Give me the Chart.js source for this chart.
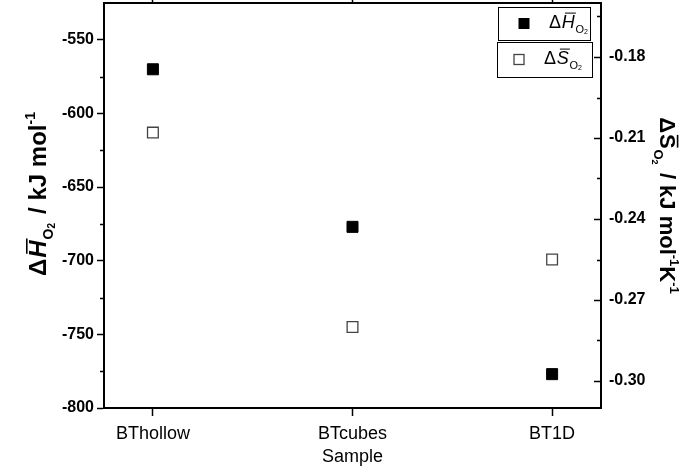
<!DOCTYPE html>
<html>
<head>
<meta charset="utf-8">
<script src="https://cdn.jsdelivr.net/npm/chart.js@4"></script>
<style>
  html, body { margin: 0; padding: 0; background: #fff; }
  #wrap { width: 686px; height: 473px; }
</style>
</head>
<body>
<div id="wrap"><canvas id="c" width="686" height="473"></canvas></div>
<script>
// Oxidation enthalpy and entropy per sample
const samples = ['BThollow', 'BTcubes', 'BT1D'];
const enthalpy = [-570, -677, -777];        // kJ mol-1
const entropy = [-0.208, -0.280, -0.255];   // kJ mol-1 K-1
const enthalpyTicks = [-800, -750, -700, -650, -600, -550];
const entropyTicks = [-0.30, -0.27, -0.24, -0.21, -0.18];
const enthalpyRange = [-800, -525];
const entropyRange = [-0.31, -0.16];
const xRange = [-0.245, 2.245];
const xTitle = 'Sample';
const seriesSymbols = ['H', 'S'];   // quantity letters, shown as ΔX̄ with subscript O2

const FAM = '"Liberation Sans", Arial, sans-serif';
Chart.defaults.font.family = FAM;
Chart.defaults.color = '#000';

const filledStyle = { bg: '#000', border: '#000', bw: 1 };
const openStyle = { bg: '#fff', border: '#444', bw: 1.3 };

// rich text: runs of {t, size, bold, italic, dy, bar}
function fontOf(r) {
  return (r.italic ? 'italic ' : '') + (r.bold ? 'bold ' : '') + r.size + 'px ' + FAM;
}
function runsWidth(ctx, runs) {
  let w = 0;
  for (const r of runs) { ctx.font = fontOf(r); w += ctx.measureText(r.t).width + (r.gap || 0); }
  return w;
}
function drawRuns(ctx, runs, x, y) {
  ctx.textBaseline = 'alphabetic';
  ctx.textAlign = 'left';
  for (const r of runs) {
    ctx.font = fontOf(r);
    const w = ctx.measureText(r.t).width;
    ctx.fillText(r.t, x, y + (r.dy || 0));
    if (r.bar) {
      const top = y - r.size * 0.80;
      const sh = r.italic ? r.size * 0.12 : 0;
      ctx.save();
      ctx.lineWidth = r.bold ? 1.6 : 1;
      ctx.beginPath();
      ctx.moveTo(x + 1 + sh, top);
      ctx.lineTo(x + w - 1 + sh, top);
      ctx.stroke();
      ctx.restore();
    }
    x += w + (r.gap || 0);
  }
}
function symbolRuns(letter, size, bold, italic) {
  return [
    { t: 'Δ', size, bold, gap: size * 0.04 },
    { t: letter, size, bold, italic, bar: true, gap: size * 0.04 },
    { t: 'O', size: Math.round(size * 0.6), bold, dy: size * 0.28 },
    { t: '2', size: Math.round(size * 0.4), bold, dy: size * 0.36, gap: size * 0.1 }
  ];
}

const axisTitles = {
  id: 'axisTitles',
  afterDraw(chart) {
    const ctx = chart.ctx;
    const area = chart.chartArea;
    ctx.save();
    ctx.fillStyle = '#000';
    ctx.strokeStyle = '#000';
    // left title
    const leftRuns = symbolRuns(seriesSymbols[0], 24, true, true).concat([
      { t: ' / kJ mol', size: 24, bold: true },
      { t: '-1', size: 14, bold: true, dy: -11 }
    ]);
    ctx.save();
    ctx.translate(46, 194);
    ctx.rotate(-Math.PI / 2);
    drawRuns(ctx, leftRuns, -runsWidth(ctx, leftRuns) / 2, 0);
    ctx.restore();
    // right title
    const rightRuns = symbolRuns(seriesSymbols[1], 22, true, false).concat([
      { t: ' / kJ mol', size: 22, bold: true },
      { t: '-1', size: 13, bold: true, dy: -10 },
      { t: 'K', size: 22, bold: true },
      { t: '-1', size: 13, bold: true, dy: -10 }
    ]);
    ctx.save();
    ctx.translate(660, (area.top + area.bottom) / 2);
    ctx.rotate(Math.PI / 2);
    drawRuns(ctx, rightRuns, -runsWidth(ctx, rightRuns) / 2, 0);
    ctx.restore();
    ctx.restore();
  }
};

// minor ticks on the left axis (outward) and all ticks on the right axis (inward)
const axisTicks = {
  id: 'axisTicks',
  afterDraw(chart) {
    const ctx = chart.ctx;
    const yL = chart.scales.y, yR = chart.scales.y2;
    ctx.save();
    ctx.strokeStyle = '#000';
    ctx.lineWidth = 1.5;
    ctx.beginPath();
    for (let i = 0; i < enthalpyTicks.length; i++) {
      const v = enthalpyTicks[i] + 25;
      if (v >= enthalpyRange[1]) continue;
      const py = Math.round(yL.getPixelForValue(v)) + 0.5;
      ctx.moveTo(yL.right - 4, py); ctx.lineTo(yL.right, py);
    }
    const xr = yR.left;
    for (let i = 0; i < entropyTicks.length; i++) {
      const py = Math.round(yR.getPixelForValue(entropyTicks[i])) + 0.5;
      ctx.moveTo(xr - 7, py); ctx.lineTo(xr, py);
      const m = entropyTicks[i] + 0.015;
      if (m < entropyRange[1]) {
        const pm = Math.round(yR.getPixelForValue(m)) + 0.5;
        ctx.moveTo(xr - 4, pm); ctx.lineTo(xr, pm);
      }
    }
    ctx.stroke();
    ctx.restore();
  }
};

// two framed legend entries in the upper right corner
const boxLegend = {
  id: 'boxLegend',
  afterDraw(chart) {
    const ctx = chart.ctx;
    const boxes = [
      { x: 498, y: 7, w: 92, h: 33, mx: 524, tx: 549, style: filledStyle },
      { x: 497, y: 42, w: 95, h: 35, mx: 519, tx: 544, style: openStyle }
    ];
    ctx.save();
    boxes.forEach((b, i) => {
      ctx.fillStyle = '#fff';
      ctx.fillRect(b.x, b.y, b.w, b.h);
      ctx.lineWidth = 1;
      ctx.strokeStyle = '#000';
      ctx.strokeRect(b.x + 0.5, b.y + 0.5, b.w, b.h);
      const cy = b.y + b.h / 2;
      const s = 10;
      ctx.fillStyle = b.style.bg;
      ctx.fillRect(b.mx - s / 2, cy - s / 2, s, s);
      ctx.strokeStyle = b.style.border;
      ctx.lineWidth = b.style.bw;
      ctx.strokeRect(b.mx - s / 2, cy - s / 2, s, s);
      ctx.fillStyle = '#000';
      ctx.strokeStyle = '#000';
      drawRuns(ctx, symbolRuns(seriesSymbols[i], 18, false, true), b.tx, cy + 4);
    });
    ctx.restore();
  }
};

function categoryTicks(scale) {
  scale.ticks = samples.map((_, i) => ({ value: i }));
}
function noOverhang(s) {
  s.paddingTop = 0; s.paddingBottom = 0; s.paddingLeft = 0; s.paddingRight = 0;
}

new Chart(document.getElementById('c'), {
  type: 'scatter',
  data: {
    datasets: [
      {
        label: 'enthalpy',
        data: enthalpy.map((v, i) => ({ x: i, y: v })),
        yAxisID: 'y',
        pointStyle: 'rect',
        pointRadius: 7.8,
        pointHoverRadius: 7.8,
        backgroundColor: filledStyle.bg,
        borderColor: filledStyle.border,
        borderWidth: filledStyle.bw
      },
      {
        label: 'entropy',
        data: entropy.map((v, i) => ({ x: i, y: v })),
        yAxisID: 'y2',
        pointStyle: 'rect',
        pointRadius: 7.6,
        pointHoverRadius: 7.6,
        backgroundColor: openStyle.bg,
        borderColor: openStyle.border,
        borderWidth: openStyle.bw
      }
    ]
  },
  options: {
    responsive: false,
    animation: false,
    devicePixelRatio: 1,
    layout: { padding: 0, autoPadding: false },
    plugins: { legend: { display: false }, tooltip: { enabled: false } },
    scales: {
      x: {
        type: 'linear', position: 'bottom',
        min: xRange[0], max: xRange[1],
        afterBuildTicks: categoryTicks,
        afterFit: s => { s.height = 65; noOverhang(s); },
        ticks: {
          callback: v => samples[v],
          font: { size: 18 }, color: '#000', padding: 7,
          maxRotation: 0, autoSkip: false
        },
        grid: { drawOnChartArea: false, drawTicks: true, tickLength: 8, tickColor: '#000', tickWidth: 1.5 },
        border: { color: '#000', width: 2 },
        title: { display: true, text: xTitle, font: { size: 18 }, color: '#000', padding: { top: 1, bottom: 5 } }
      },
      xTop: {
        type: 'linear', position: 'top',
        min: xRange[0], max: xRange[1],
        afterBuildTicks: categoryTicks,
        afterFit: s => { s.height = 3; noOverhang(s); },
        ticks: { display: false },
        grid: { drawOnChartArea: false, drawTicks: true, tickLength: 3, tickColor: '#000', tickWidth: 1.5 },
        border: { color: '#000', width: 2 }
      },
      y: {
        type: 'linear', position: 'left',
        min: enthalpyRange[0], max: enthalpyRange[1],
        afterBuildTicks: s => { s.ticks = enthalpyTicks.map(v => ({ value: v })); },
        afterFit: s => { s.width = 104; noOverhang(s); },
        ticks: { callback: v => String(v), font: { size: 16, weight: 'bold' }, color: '#000', padding: 3 },
        grid: { drawOnChartArea: false, drawTicks: true, tickLength: 7, tickColor: '#000', tickWidth: 1.5 },
        border: { color: '#000', width: 2 }
      },
      y2: {
        type: 'linear', position: 'right',
        min: entropyRange[0], max: entropyRange[1],
        afterBuildTicks: s => { s.ticks = entropyTicks.map(v => ({ value: v })); },
        afterFit: s => { s.width = 85; noOverhang(s); },
        ticks: { callback: v => v.toFixed(2), font: { size: 16, weight: 'bold' }, color: '#000', padding: 8 },
        grid: { drawOnChartArea: false, drawTicks: false },
        border: { color: '#000', width: 2 }
      }
    }
  },
  plugins: [axisTitles, axisTicks, boxLegend]
});
</script>
</body>
</html>
